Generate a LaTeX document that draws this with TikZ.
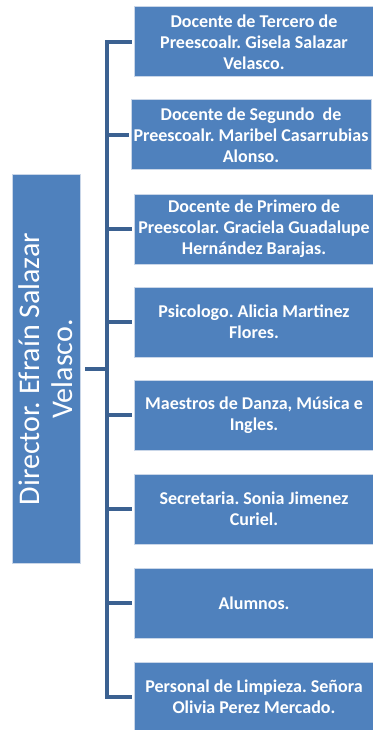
\documentclass[tikz,border=0pt]{standalone}
\usepackage{fontspec}
\setmainfont{Carlito}
\frenchspacing
\definecolor{boxblue}{HTML}{4F81BD}
\definecolor{boxedge}{HTML}{C9D6E8}
\definecolor{linkblue}{HTML}{3B6191}
\begin{document}
\begin{tikzpicture}[x=1pt,y=-1pt,line cap=rect,line join=miter,
    staff/.style={fill=boxblue,draw=boxedge,line width=1pt,text=white,
      minimum width=240pt,minimum height=70pt,inner sep=0pt,align=center,
      font=\fontsize{18}{21}\selectfont\bfseries},
    head/.style={fill=boxblue,draw=boxedge,line width=1pt,text=white,
      minimum width=388pt,minimum height=68pt,inner sep=0pt,align=center,
      rotate=90,font=\fontsize{30}{33}\selectfont},
    bracket/.style={draw=linkblue,line width=4pt}]
  \useasboundingbox (0,0) rectangle (372,730);
  % director
  \node[head] (d) at (46,369) {Director. Efraín Salazar\\Velasco.};
  % staff boxes
  \node[staff] (s1) at (254,42) {Docente de Tercero de\\Preescoalr. Gisela Salazar\\Velasco.};
  \node[staff] (s2) at (251,135) {Docente de Segundo\ \ de\\Preescoalr. Maribel Casarrubias\\Alonso.};
  \node[staff] (s3) at (254,229) {Docente de Primero de\\Preescolar. Graciela Guadalupe\\Hernández Barajas.};
  \node[staff] (s4) at (254,322) {Psicologo. Alicia Martinez\\Flores.};
  \node[staff] (s5) at (254,415) {Maestros de Danza, Música e\\Ingles.};
  \node[staff] (s6) at (254,509) {Secretaria. Sonia Jimenez\\Curiel.};
  \node[staff] (s7) at (254,603) {Alumnos.};
  \node[staff] (s8) at (254,697) {Personal de Limpieza. Señora\\Olivia Perez Mercado.};
  % bracket
  \coordinate (hub) at (107,369);
  \draw[bracket] ([xshift=6pt]d.south) -- (hub);
  \draw[bracket] (hub |- s1) -- (hub |- s8);
  \foreach \i in {1,...,8}
    \draw[bracket] (hub |- s\i) -- ([xshift=-4pt]s\i.west);
\end{tikzpicture}
\end{document}
